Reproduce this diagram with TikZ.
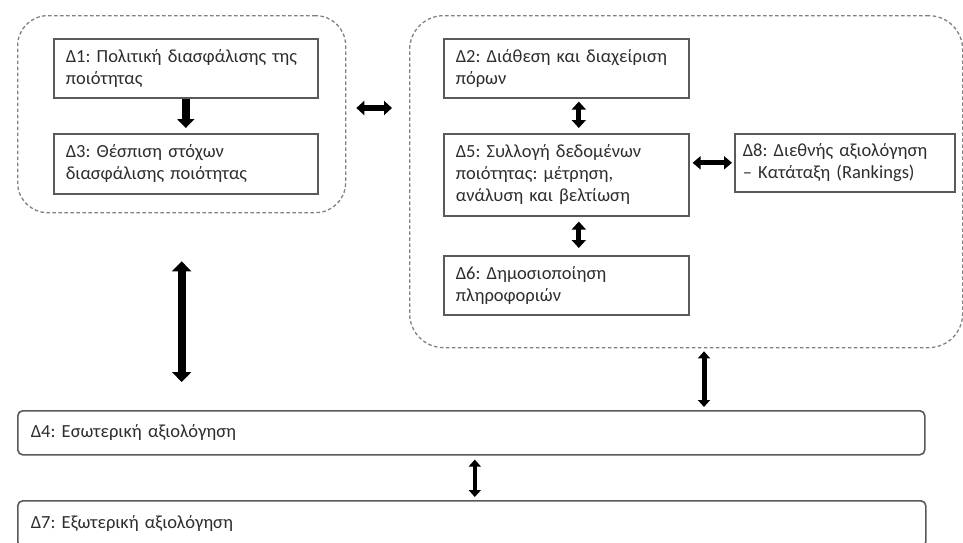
\documentclass[tikz,border=0pt]{standalone}
\usepackage{fontspec}
\setmainfont{Carlito}
\usetikzlibrary{arrows.meta,calc}
\definecolor{boxline}{HTML}{5A5A5A}
\definecolor{dashline}{HTML}{808080}
\definecolor{txt}{HTML}{2E2E2E}
\tikzset{
  stagebox/.style={draw=boxline, line width=1.6pt, inner xsep=12pt, inner ysep=0pt,
    align=left, anchor=north west, text=txt, font=\fontsize{18.5}{22}\selectfont},
  levelbox/.style={stagebox, rounded corners=5pt},
  groupbox/.style={draw=dashline, line width=1.3pt, dash pattern=on 3.5pt off 2.5pt,
    rounded corners=30pt, anchor=north west, inner sep=0pt},
  linkarrow/.style={line width=#1, draw=black},
  bothtip/.style 2 args={{Triangle[width=#1,length=#2]}-{Triangle[width=#1,length=#2]}},
  onetip/.style 2 args={-{Triangle[width=#1,length=#2]}},
}
\frenchspacing
\begin{document}
\begin{tikzpicture}[x=1pt,y=-1pt]
  \clip (0,0) rectangle (963,542);
  \fill[white] (0,0) rectangle (963,542);

  % dashed groups
  \node[groupbox, minimum width=328pt, minimum height=197pt] (lb) at (17,15) {};
  \node[groupbox, minimum width=553pt, minimum height=332pt, rounded corners=34pt] (rb) at (409,15) {};

  % left group
  \node[stagebox, text width=240pt, minimum height=59pt] (d1) at (53,38)
    {Δ1: Πολιτική διασφάλισης της\\ποιότητας};
  \node[stagebox, text width=240pt, minimum height=60pt] (d3) at (53,133)
    {Δ3: Θέσπιση στόχων\\διασφάλισης ποιότητας};

  % right group
  \node[stagebox, text width=221pt, minimum height=59pt] (d2) at (443,38)
    {Δ2: Διάθεση και διαχείριση\\πόρων};
  \node[stagebox, text width=221pt, minimum height=82pt] (d5) at (443,133)
    {Δ5: Συλλογή δεδομένων\\ποιότητας: μέτρηση,\\ανάλυση και βελτίωση};
  \node[stagebox, text width=221pt, minimum height=59pt] (d6) at (443,255)
    {Δ6: Δημοσιοποίηση\\πληροφοριών};
  \node[stagebox, inner xsep=8pt, text width=204pt, minimum height=58pt] (d8) at (734,133)
    {Δ8: Διεθνής αξιολόγηση\\– Κατάταξη (Rankings)};

  % evaluation levels
  \node[levelbox, inner xsep=13pt, text width=881pt, minimum height=44pt] (d4) at (17,410)
    {Δ4: Εσωτερική αξιολόγηση};
  \node[levelbox, inner xsep=13pt, text width=882pt, minimum height=46pt] (d7) at (17,500)
    {Δ7: Εξωτερική αξιολόγηση};

  % helper positions for off-centre connectors
  \coordinate (row) at (0,108);
  \coordinate (col) at (704,0);

  % connectors
  \draw[linkarrow=8pt, onetip={17pt}{9pt}, shorten >=5pt] (d1.south) -- (d3.north);
  \draw[linkarrow=6pt, bothtip={14pt}{8pt}, shorten <=10pt, shorten >=17pt]
    (lb.east |- row) -- (rb.west |- row);
  \draw[linkarrow=5pt, bothtip={14pt}{8pt}, shorten <=3pt, shorten >=5pt]
    ([xshift=12.5pt]d2.south) -- ([xshift=12.5pt]d2.south |- d5.north);
  \draw[linkarrow=5pt, bothtip={14pt}{8pt}, shorten <=5pt, shorten >=7pt]
    ([xshift=12.5pt]d5.south) -- ([xshift=12.5pt]d5.south |- d6.north);
  \draw[linkarrow=5pt, bothtip={13pt}{8pt}, shorten <=3pt, shorten >=2pt]
    (d5.east |- d8.west) -- (d8.west);
  \draw[linkarrow=8pt, bothtip={19pt}{10pt}, shorten <=48pt, shorten >=28pt]
    (lb.south) -- (lb.south |- d4.north);
  \draw[linkarrow=5pt, bothtip={12pt}{7pt}, shorten <=3pt, shorten >=3pt]
    (rb.south -| col) -- (d4.north -| col);
  \draw[linkarrow=4.5pt, bothtip={12pt}{7pt}, shorten <=4pt, shorten >=3pt]
    ([xshift=3.5pt]d4.south) -- ([xshift=3.5pt]d4.south |- d7.north);
\end{tikzpicture}
\end{document}
